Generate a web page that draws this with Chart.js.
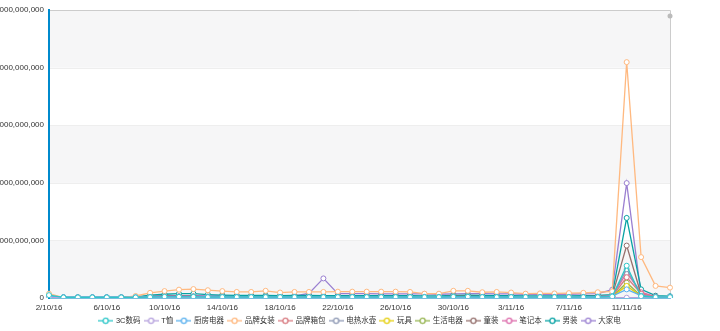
<!DOCTYPE html>
<html>
<head>
<meta charset="utf-8">
<script src="https://cdn.jsdelivr.net/npm/chart.js@4.4.1/dist/chart.umd.min.js"></script>
<style>
  body { margin: 0; background: #fff; }
  #wrap { width: 720px; height: 331px; position: relative; }
</style>
</head>
<body>
<div id="wrap"><canvas id="chart"></canvas></div>
<script>
// categories: one per day, 2 Oct - 14 Nov 2016
const days = [
  "2/10/16", "3/10/16", "4/10/16", "5/10/16", "6/10/16", "7/10/16", "8/10/16", "9/10/16",
  "10/10/16", "11/10/16", "12/10/16", "13/10/16", "14/10/16", "15/10/16", "16/10/16", "17/10/16",
  "18/10/16", "19/10/16", "20/10/16", "21/10/16", "22/10/16", "23/10/16", "24/10/16", "25/10/16",
  "26/10/16", "27/10/16", "28/10/16", "29/10/16", "30/10/16", "31/10/16", "1/11/16", "2/11/16",
  "3/11/16", "4/11/16", "5/11/16", "6/11/16", "7/11/16", "8/11/16", "9/11/16", "10/11/16",
  "11/11/16", "12/11/16", "13/11/16", "14/11/16"
];

const seriesNames = ["3C数码", "T恤", "厨房电器", "品牌女装", "品牌箱包", "电热水壶", "玩具", "生活电器", "童装", "笔记本", "男装", "大家电"];
const seriesColors = ["#2ec7c9", "#b6a2de", "#5ab1ef", "#ffb980", "#d87a80", "#8d98b3", "#e5cf0d", "#97b552", "#95706d", "#dc69aa", "#07a2a4", "#9a7fd1"];

// daily values
const shuma3c = [1.0e8, 0.2e8, 0.2e8, 0.2e8, 0.2e8, 0.2e8, 0.2e8, 0.3e8, 0.4e8, 0.4e8, 0.4e8, 0.3e8, 0.3e8, 0.3e8, 0.3e8, 0.3e8, 0.3e8, 0.3e8, 0.3e8, 0.3e8, 0.3e8, 0.3e8, 0.3e8, 0.3e8, 0.3e8, 0.3e8, 0.3e8, 0.3e8, 0.4e8, 0.4e8, 0.3e8, 0.3e8, 0.3e8, 0.3e8, 0.3e8, 0.3e8, 0.3e8, 0.3e8, 0.3e8, 0.5e8, 11.2e8, 0.6e8, 0.3e8, 0.3e8];
const txu = [0.3e8, 0.1e8, 0.1e8, 0.1e8, 0.1e8, 0.1e8, 0.1e8, 0.1e8, 0.2e8, 0.2e8, 0.2e8, 0.2e8, 0.1e8, 0.1e8, 0.1e8, 0.1e8, 0.1e8, 0.1e8, 0.1e8, 0.1e8, 0.1e8, 0.1e8, 0.1e8, 0.1e8, 0.1e8, 0.1e8, 0.1e8, 0.1e8, 0.1e8, 0.1e8, 0.1e8, 0.1e8, 0.1e8, 0.1e8, 0.1e8, 0.1e8, 0.1e8, 0.1e8, 0.1e8, 0.1e8, 0.1e8, 0.1e8, 0.1e8, 0.1e8];
const chufang = [0.6e8, 0.3e8, 0.3e8, 0.3e8, 0.3e8, 0.3e8, 0.3e8, 0.4e8, 0.5e8, 0.5e8, 0.5e8, 0.4e8, 0.4e8, 0.4e8, 0.4e8, 0.4e8, 0.4e8, 0.4e8, 0.4e8, 0.4e8, 0.4e8, 0.4e8, 0.4e8, 0.4e8, 0.4e8, 0.4e8, 0.4e8, 0.4e8, 0.5e8, 0.5e8, 0.4e8, 0.4e8, 0.4e8, 0.4e8, 0.4e8, 0.4e8, 0.4e8, 0.4e8, 0.5e8, 0.7e8, 3.0e8, 0.8e8, 0.4e8, 0.4e8];
const nvzhuang = [1.5e8, 0.1e8, 0.1e8, 0.1e8, 0.1e8, 0.1e8, 0.7e8, 1.8e8, 2.4e8, 2.9e8, 3.1e8, 2.7e8, 2.4e8, 2.1e8, 2.1e8, 2.5e8, 1.9e8, 2.1e8, 2.1e8, 2.1e8, 2.2e8, 2.2e8, 2.2e8, 2.2e8, 2.2e8, 2.1e8, 1.5e8, 1.5e8, 2.5e8, 2.5e8, 2.0e8, 2.1e8, 1.9e8, 1.5e8, 1.6e8, 1.6e8, 1.7e8, 1.8e8, 2.0e8, 2.3e8, 81.9e8, 14.2e8, 4.2e8, 3.6e8];
const xiangbao = [0.4e8, 0.1e8, 0.1e8, 0.1e8, 0.1e8, 0.1e8, 0.2e8, 0.3e8, 0.4e8, 0.4e8, 0.4e8, 0.3e8, 0.3e8, 0.3e8, 0.3e8, 0.3e8, 0.3e8, 0.3e8, 0.3e8, 0.3e8, 0.3e8, 0.3e8, 0.3e8, 0.3e8, 0.3e8, 0.3e8, 0.3e8, 0.3e8, 0.4e8, 0.4e8, 0.3e8, 0.3e8, 0.3e8, 0.3e8, 0.3e8, 0.3e8, 0.3e8, 0.3e8, 0.4e8, 0.6e8, 7.2e8, 1.5e8, 0.4e8, 0.3e8];
const shuihu = [0.2e8, 0.1e8, 0.1e8, 0.1e8, 0.1e8, 0.1e8, 0.1e8, 0.2e8, 0.2e8, 0.2e8, 0.2e8, 0.2e8, 0.2e8, 0.2e8, 0.2e8, 0.2e8, 0.2e8, 0.2e8, 0.2e8, 0.2e8, 0.2e8, 0.2e8, 0.2e8, 0.2e8, 0.2e8, 0.2e8, 0.2e8, 0.2e8, 0.2e8, 0.2e8, 0.2e8, 0.2e8, 0.2e8, 0.2e8, 0.2e8, 0.2e8, 0.2e8, 0.2e8, 0.3e8, 0.5e8, 10.0e8, 0.9e8, 0.3e8, 0.2e8];
const wanju = [0.2e8, 0.1e8, 0.1e8, 0.1e8, 0.1e8, 0.1e8, 0.1e8, 0.2e8, 0.2e8, 0.2e8, 0.2e8, 0.2e8, 0.2e8, 0.2e8, 0.2e8, 0.2e8, 0.2e8, 0.2e8, 0.2e8, 0.2e8, 0.2e8, 0.2e8, 0.2e8, 0.2e8, 0.2e8, 0.2e8, 0.2e8, 0.2e8, 0.2e8, 0.2e8, 0.2e8, 0.2e8, 0.2e8, 0.2e8, 0.2e8, 0.2e8, 0.2e8, 0.2e8, 0.3e8, 0.5e8, 4.2e8, 0.6e8, 0.2e8, 0.2e8];
const shenghuo = [0.3e8, 0.1e8, 0.1e8, 0.1e8, 0.1e8, 0.1e8, 0.1e8, 0.2e8, 0.3e8, 0.3e8, 0.3e8, 0.2e8, 0.2e8, 0.2e8, 0.2e8, 0.2e8, 0.2e8, 0.2e8, 0.2e8, 0.2e8, 0.2e8, 0.2e8, 0.2e8, 0.2e8, 0.2e8, 0.2e8, 0.2e8, 0.2e8, 0.3e8, 0.3e8, 0.2e8, 0.2e8, 0.2e8, 0.2e8, 0.2e8, 0.2e8, 0.2e8, 0.2e8, 0.3e8, 0.5e8, 5.3e8, 0.7e8, 0.3e8, 0.2e8];
const tongzhuang = [0.5e8, 0.2e8, 0.2e8, 0.2e8, 0.2e8, 0.2e8, 0.3e8, 0.5e8, 0.6e8, 0.6e8, 0.6e8, 0.5e8, 0.5e8, 0.5e8, 0.5e8, 0.5e8, 0.5e8, 0.5e8, 0.5e8, 0.5e8, 0.5e8, 0.5e8, 0.5e8, 0.5e8, 0.5e8, 0.5e8, 0.4e8, 0.4e8, 0.6e8, 0.6e8, 0.5e8, 0.5e8, 0.5e8, 0.4e8, 0.4e8, 0.4e8, 0.4e8, 0.5e8, 0.6e8, 0.8e8, 18.2e8, 1.2e8, 0.5e8, 0.4e8];
const bijiben = [0.4e8, 0.1e8, 0.1e8, 0.1e8, 0.1e8, 0.1e8, 0.2e8, 0.3e8, 0.4e8, 0.4e8, 0.4e8, 0.3e8, 0.3e8, 0.3e8, 0.3e8, 0.3e8, 0.3e8, 0.3e8, 0.3e8, 0.3e8, 0.3e8, 0.3e8, 0.3e8, 0.3e8, 0.3e8, 0.3e8, 0.3e8, 0.3e8, 0.4e8, 0.4e8, 0.3e8, 0.3e8, 0.3e8, 0.3e8, 0.3e8, 0.3e8, 0.3e8, 0.3e8, 0.4e8, 0.7e8, 8.7e8, 2.0e8, 0.5e8, 0.4e8];
const nanzhuang = [0.6e8, 0.2e8, 0.2e8, 0.2e8, 0.2e8, 0.2e8, 0.4e8, 1.0e8, 1.3e8, 1.5e8, 1.5e8, 1.2e8, 1.0e8, 0.9e8, 0.9e8, 0.9e8, 0.8e8, 0.9e8, 0.9e8, 0.8e8, 0.8e8, 0.8e8, 0.8e8, 0.8e8, 0.8e8, 0.8e8, 0.7e8, 0.7e8, 0.9e8, 1.0e8, 0.9e8, 0.8e8, 0.8e8, 0.7e8, 0.7e8, 0.7e8, 0.7e8, 0.8e8, 0.9e8, 1.2e8, 27.8e8, 3.0e8, 0.8e8, 0.6e8];
const dajiadian = [0.3e8, 0.2e8, 0.2e8, 0.2e8, 0.2e8, 0.2e8, 0.3e8, 0.6e8, 0.8e8, 0.8e8, 0.8e8, 0.7e8, 0.7e8, 0.6e8, 0.6e8, 0.6e8, 0.6e8, 0.7e8, 1.6e8, 6.8e8, 1.5e8, 1.5e8, 1.5e8, 1.4e8, 1.4e8, 1.4e8, 1.4e8, 1.3e8, 1.4e8, 1.5e8, 1.5e8, 1.4e8, 1.4e8, 1.3e8, 1.3e8, 1.3e8, 1.3e8, 1.4e8, 1.5e8, 2.9e8, 39.9e8, 1.0e8, 0.5e8, 0.5e8];
// lone grey point at the top right corner
const cornerPoint = [null, null, null, null, null, null, null, null, null, null, null, null, null, null, null, null, null, null, null, null, null, null, null, null, null, null, null, null, null, null, null, null, null, null, null, null, null, null, null, null, null, null, null, 97.9e8];

const seriesValues = [shuma3c, txu, chufang, nvzhuang, xiangbao, shuihu, wanju, shenghuo, tongzhuang, bijiben, nanzhuang, dajiadian];

const yTicks = { min: 0, max: 100e8, step: 20e8 };

const fontFamily = '"Helvetica Neue", Arial, "Liberation Sans", "Noto Sans CJK SC", sans-serif';
const axisBlue = "#008acd";

function legendIcon(color) {
  const c = document.createElement("canvas");
  c.width = 15;
  c.height = 8;
  const g = c.getContext("2d");
  g.strokeStyle = color;
  g.lineWidth = 1.3;
  g.beginPath();
  g.moveTo(0, 4);
  g.lineTo(15, 4);
  g.stroke();
  g.fillStyle = "#fff";
  g.beginPath();
  g.arc(7.5, 4, 2.6, 0, Math.PI * 2);
  g.fill();
  g.stroke();
  return c;
}

const datasets = seriesNames.map((name, i) => ({
  label: name,
  data: seriesValues[i],
  borderColor: seriesColors[i],
  backgroundColor: "#fff",
  pointBackgroundColor: "#fff",
  pointBorderColor: seriesColors[i],
  pointRadius: 2.5,
  pointBorderWidth: 1,
  borderWidth: 1.3,
  tension: 0,
  icon: legendIcon(seriesColors[i])
}));
datasets.push({
  label: "",
  data: cornerPoint,
  borderColor: "#bbb",
  backgroundColor: "#bbb",
  pointRadius: 2.5,
  pointBorderWidth: 0,
  showLine: false
});

const splitArea = {
  id: "splitArea",
  beforeDraw(chart) {
    const { ctx, chartArea: a, scales: { y } } = chart;
    ctx.save();
    y.ticks.forEach((t, i) => {
      if (i % 2 === 0 && i < y.ticks.length - 1) {
        const y0 = y.getPixelForValue(t.value);
        const y1 = y.getPixelForValue(y.ticks[i + 1].value);
        ctx.fillStyle = "#f6f6f7";
        ctx.fillRect(a.left, y1, a.right - a.left, y0 - y1);
      }
    });
    ctx.fillStyle = "#eee";
    y.ticks.forEach((t) => {
      const py = Math.round(y.getPixelForValue(t.value));
      ctx.fillRect(a.left, py, a.right - a.left, 1);
    });
    ctx.strokeStyle = "#ccc";
    ctx.lineWidth = 1;
    ctx.beginPath();
    ctx.moveTo(a.left, a.top + 0.5);
    ctx.lineTo(a.right + 0.5, a.top + 0.5);
    ctx.lineTo(a.right + 0.5, a.bottom);
    ctx.stroke();
    ctx.restore();
  }
};

// keep the legend strip short, like the original
const legendHeight = {
  id: "legendHeight",
  afterInit(chart) {
    const lg = chart.legend;
    const fit = lg.fit.bind(lg);
    lg.fit = function () {
      fit();
      this.height = 18;
    };
  }
};

new Chart(document.getElementById("chart"), {
  type: "line",
  data: { labels: days, datasets: datasets },
  plugins: [splitArea, legendHeight],
  options: {
    responsive: true,
    maintainAspectRatio: false,
    animation: false,
    layout: { padding: { top: 10, right: 0, left: 0, bottom: 0 } },
    font: { family: fontFamily },
    plugins: {
      tooltip: { enabled: false },
      legend: {
        position: "bottom",
        labels: {
          usePointStyle: true,
          pointStyleWidth: 13,
          boxHeight: 8,
          padding: 4,
          color: "#333",
          font: { family: fontFamily, size: 7.5 },
          generateLabels(chart) {
            return chart.data.datasets
              .map((d, i) => ({ d, i }))
              .filter(({ d }) => d.label)
              .map(({ d, i }) => ({
                text: d.label,
                datasetIndex: i,
                pointStyle: d.icon,
                strokeStyle: d.borderColor,
                fillStyle: "#fff",
                lineWidth: 0,
                fontColor: "#333"
              }));
          }
        }
      }
    },
    scales: {
      x: {
        offset: false,
        grid: { display: false, drawTicks: false },
        border: { color: axisBlue, width: 1.5 },
        ticks: {
          autoSkip: false,
          maxRotation: 0,
          padding: 5,
          color: "#333",
          font: { family: fontFamily, size: 8 },
          callback(v, i) { return i % 4 === 0 ? days[i] : null; }
        },
        afterFit(scale) { scale.height = 15; }
      },
      y: {
        min: yTicks.min,
        max: yTicks.max,
        grid: { display: false, drawTicks: false },
        border: { color: axisBlue, width: 2 },
        ticks: {
          stepSize: yTicks.step,
          padding: 5,
          color: "#333",
          font: { family: fontFamily, size: 8 },
          callback(v) { return v.toLocaleString("en-US"); }
        },
        afterFit(scale) { scale.width = 49; }
      },
      // empty strip on the right that keeps the plot off the edge
      yRight: {
        position: "right",
        grid: { display: false, drawTicks: false },
        border: { display: false },
        ticks: { display: false },
        afterFit(scale) { scale.width = 50; }
      }
    }
  }
});
</script>
</body>
</html>
